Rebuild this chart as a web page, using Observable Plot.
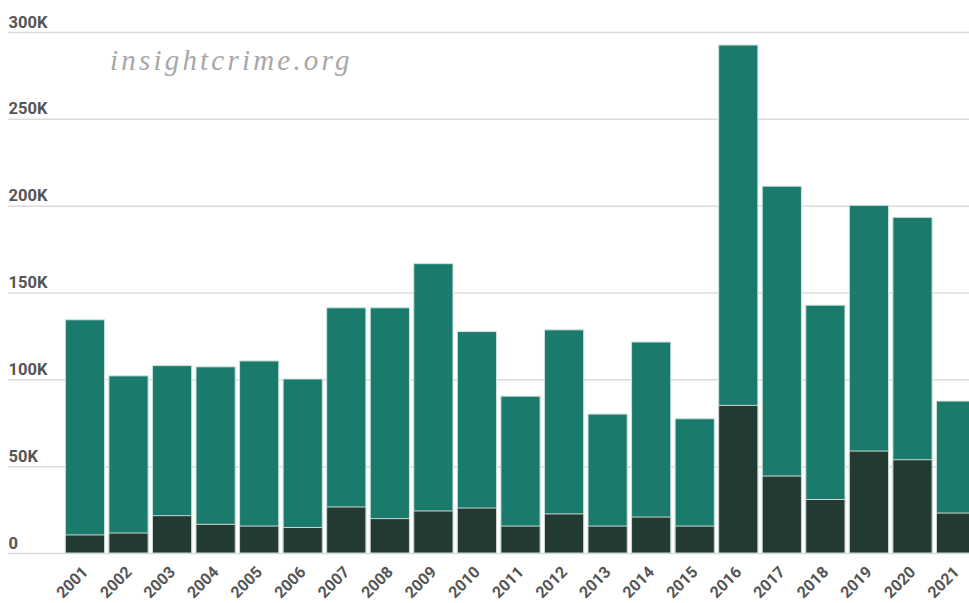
<!DOCTYPE html>
<html>
<head>
<meta charset="utf-8">
<script src="https://cdn.jsdelivr.net/npm/d3@7"></script>
<script src="https://cdn.jsdelivr.net/npm/@observablehq/plot@0.6"></script>
<style>
  html, body { margin: 0; padding: 0; background: #fff; overflow: hidden; }
  #wrap { position: relative; width: 969px; height: 603px; overflow: hidden; }
  #watermark {
    position: absolute; left: 110px; top: 44px;
    font-family: "Liberation Serif", "DejaVu Serif", serif; font-style: italic;
    font-size: 29px; letter-spacing: 3.2px; color: #a8a8a8;
  }
  svg text { font-family: Roboto, "Noto Sans", sans-serif; }
</style>
</head>
<body>
<div id="wrap"><div id="watermark">insightcrime.org</div></div>
<script>
const years = ["2001","2002","2003","2004","2005","2006","2007","2008","2009","2010","2011","2012","2013","2014","2015","2016","2017","2018","2019","2020","2021"];
const totalValues = [134300,102000,107900,107200,110600,100200,141200,141200,166600,127500,90300,128500,80000,121500,77300,292500,211200,142700,200200,193300,87500];
const darkValues  = [10400,11500,21500,16500,15500,14700,26500,19800,24200,25900,15500,22500,15500,20700,15500,85000,44300,30800,58700,53700,23000];
const yTicks = [0,50000,100000,150000,200000,250000,300000];
const yTickLabels = ["0","50K","100K","150K","200K","250K","300K"];

const rows = years.map((year, i) => ({year, total: totalValues[i], dark: darkValues[i]}));
const ticks = yTicks.map((v, i) => ({v, label: yTickLabels[i]}));

const chart = Plot.plot({
  width: 980,
  height: 603,
  marginTop: 32,
  marginBottom: 50,
  marginLeft: 8,
  marginRight: 0,
  x: {domain: years, range: [61, 980], padding: 0.1, round: false, label: null},
  y: {domain: [0, 300000], label: null, axis: null},
  marks: [
    Plot.ruleY(yTicks, {stroke: "#dcdcdc", strokeWidth: 1.5}),
    Plot.text(ticks, {y: "v", text: "label", frameAnchor: "left", textAnchor: "start", lineAnchor: "bottom", dy: -5, fill: "#555", fontSize: 16.5, fontWeight: "bold", letterSpacing: 0.8}),
    Plot.barY(rows, {x: "year", y: "total", fill: "#1a7b6c", stroke: "#cfe2dd", strokeWidth: 1}),
    Plot.barY(rows, {x: "year", y: "dark", fill: "#223a31", stroke: "#cfd8d5", strokeWidth: 1}),
    Plot.axisX({tickSize: 0, tickPadding: 16, tickRotate: -45, fontSize: 16, fontWeight: "bold", fill: "#555", letterSpacing: 0.6, label: null})
  ]
});
chart.style.display = "block";
chart.style.maxWidth = "none";
chart.style.overflow = "visible";
document.getElementById("wrap").appendChild(chart);
</script>
</body>
</html>
